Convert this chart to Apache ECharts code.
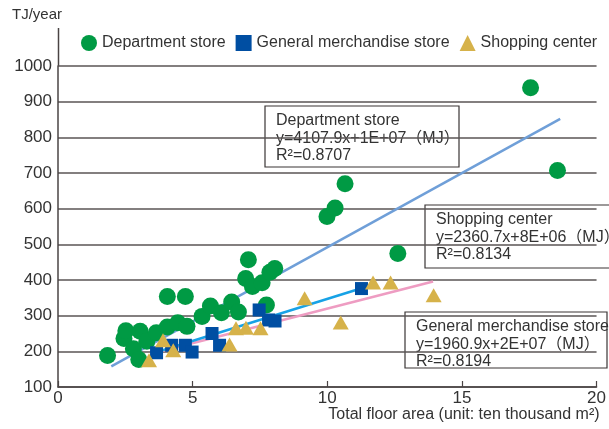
<!DOCTYPE html>
<html>
<head>
<meta charset="utf-8">
<script src="https://cdn.jsdelivr.net/npm/echarts@6/dist/echarts.min.js"></script>
<style>
  html, body { margin: 0; padding: 0; background: #fff; }
  #chart { width: 609px; height: 429px; }
</style>
</head>
<body>
<div id="chart"></div>
<script>
// values: [floor area (10^4 m2), TJ/year]
const departmentStore = [
  [1.84, 188], [2.45, 236], [2.52, 258], [2.8, 207], [3.0, 177], [3.05, 256],
  [3.3, 228], [3.65, 252], [4.06, 268], [4.45, 280], [4.79, 270], [4.06, 354],
  [4.73, 354], [5.35, 298], [5.66, 327], [6.07, 308], [6.45, 338], [6.7, 310],
  [7.07, 457], [6.97, 404], [7.22, 382], [7.58, 392], [7.87, 422], [8.05, 432],
  [7.74, 330], [9.99, 578], [10.29, 602], [10.66, 670], [12.62, 474],
  [17.55, 939], [18.55, 707]
];
const generalMerchandise = [
  [3.66, 196], [4.22, 217], [4.73, 217], [4.98, 198], [5.72, 250], [6.0, 217],
  [7.47, 316], [7.82, 288], [8.06, 285], [11.27, 376]
];
const shoppingCenter = [
  [3.38, 175], [3.9, 231], [4.28, 203], [6.37, 219], [6.61, 265], [6.98, 266],
  [7.52, 265], [9.16, 349], [10.5, 281], [11.7, 393], [12.35, 393], [13.95, 357]
];
// regression lines, end points
const departmentFit = [[1.98, 158], [18.65, 852]];
const merchandiseFit = [[3.5, 194], [11.27, 377]];
const shoppingFit = [[3.5, 194], [13.93, 396]];

const seriesNames = ["Department store", "General merchandise store", "Shopping center"];
const fitLabels = [
  ["Department store", "y=4107.9x+1E+07（MJ）", "R²=0.8707"],
  ["Shopping center", "y=2360.7x+8E+06（MJ）", "R²=0.8134"],
  ["General merchandise store", "y=1960.9x+2E+07（MJ）", "R²=0.8194"]
];
const xTicks = [0, 5, 10, 15, 20];
const yTicks = [100, 200, 300, 400, 500, 600, 700, 800, 900, 1000];

const FONT = "'Liberation Sans', Arial, 'Noto Sans CJK JP', sans-serif";
const INK = "#333";
const AXIS = "#4a4444";

function box(x, y, w, h, lines) {
  return {
    type: "group",
    x: x,
    y: y,
    z: 100,
    children: [
      { type: "rect", shape: { x: 0, y: 0, width: w, height: h },
        style: { fill: "#fff", stroke: "#3a3535", lineWidth: 1.2 } },
      { type: "text", x: 11, y: 6,
        style: { text: lines.join("\n"), font: "16px " + FONT, fill: INK, lineHeight: 17.5 } }
    ]
  };
}

let myChart = echarts.init(document.getElementById("chart"));
myChart.setOption({
  animation: false,
  textStyle: { fontFamily: FONT },
  grid: { left: 58, right: 8, top: 66, bottom: 42 },
  legend: {
    left: 76,
    top: 30,
    itemWidth: 16,
    itemHeight: 16,
    itemGap: 10,
    textStyle: { fontSize: 16, color: INK, fontFamily: FONT },
    data: [
      { name: seriesNames[0], icon: "circle" },
      { name: seriesNames[1], icon: "rect" },
      { name: seriesNames[2], icon: "triangle" }
    ]
  },
  xAxis: {
    type: "value",
    min: xTicks[0],
    max: xTicks[xTicks.length - 1],
    interval: 5,
    name: "Total floor area (unit: ten thousand m²)",
    nameLocation: "end",
    nameGap: 3,
    nameTextStyle: { fontSize: 16, color: INK, align: "right", verticalAlign: "top", padding: [20, 0, 0, 0] },
    axisLine: { lineStyle: { color: AXIS, width: 1.5 } },
    axisTick: { inside: true, length: 6, lineStyle: { color: AXIS, width: 1.2 } },
    axisLabel: { fontSize: 17, color: INK, margin: 3 },
    splitLine: { show: false }
  },
  yAxis: {
    type: "value",
    min: yTicks[0],
    max: yTicks[yTicks.length - 1],
    interval: 100,
    name: "TJ/year",
    nameLocation: "end",
    nameGap: 44,
    nameTextStyle: { fontSize: 15, color: INK, align: "right", padding: [0, -4, 0, 0] },
    axisLine: { show: true, lineStyle: { color: AXIS, width: 1.5 } },
    axisTick: { show: false },
    axisLabel: { fontSize: 17, color: INK, margin: 6, formatter: (v) => String(v) },
    splitLine: { lineStyle: { color: "#5a5555", width: 1.5 } }
  },
  series: [
    { type: "line", data: departmentFit, showSymbol: false, silent: true, z: 1,
      lineStyle: { color: "#6f9fd8", width: 2.5 } },
    { type: "line", data: shoppingFit, showSymbol: false, silent: true, z: 1,
      lineStyle: { color: "#ee9cc2", width: 2.5 } },
    { type: "line", data: merchandiseFit, showSymbol: false, silent: true, z: 1,
      lineStyle: { color: "#17a2e6", width: 2.5 } },
    { name: seriesNames[0], type: "scatter", data: departmentStore, symbol: "circle",
      symbolSize: 17, itemStyle: { color: "#009a44", opacity: 1 }, z: 3 },
    { name: seriesNames[1], type: "scatter", data: generalMerchandise, symbol: "rect",
      symbolSize: 13, itemStyle: { color: "#004ea2", opacity: 1 }, z: 4 },
    { name: seriesNames[2], type: "scatter", data: shoppingCenter, symbol: "triangle",
      symbolSize: [16, 14], itemStyle: { color: "#d6b24a", opacity: 1 }, z: 5 }
  ],
  graphic: [
    // the y axis line runs on above the 1000 gridline
    { type: "line", shape: { x1: 58.5, y1: 28, x2: 58.5, y2: 66 },
      style: { stroke: AXIS, lineWidth: 1.5 } },
    box(265, 106, 194, 61, fitLabels[0]),
    box(425, 205, 200, 63, fitLabels[1]),
    box(405, 312, 202, 56, fitLabels[2])
  ]
});
</script>
</body>
</html>
